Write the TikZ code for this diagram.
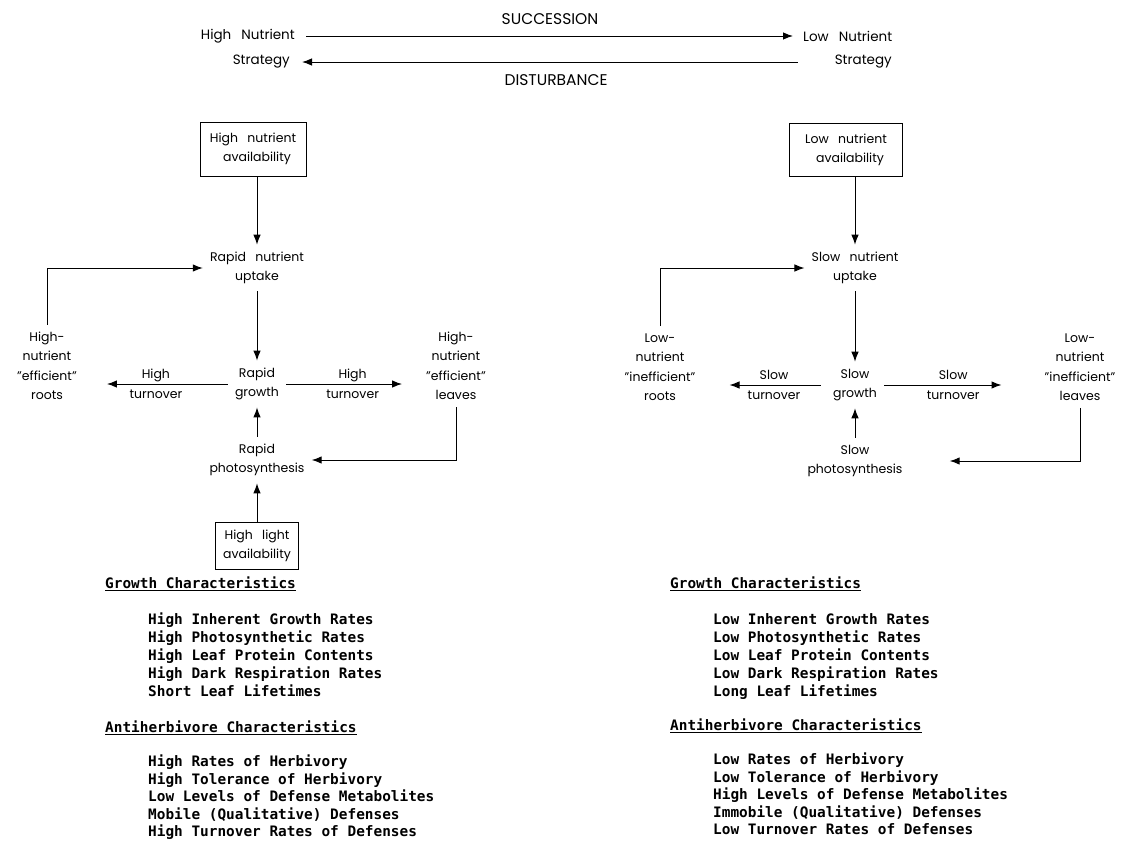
\documentclass[tikz,border=0pt]{standalone}
\usepackage{fontspec}
\setmainfont{Poppins}
\newfontfamily\listfamily{DejaVu Sans Mono}
\usepackage{tikz}
\usetikzlibrary{arrows.meta}
\def\diagfont{\fontsize{12.5}{19.5}\selectfont\spaceskip=0.75em\relax}
\def\stratfont{\fontsize{13.5}{19.5}\selectfont\spaceskip=0.75em\relax}
\def\capfont{\fontsize{15.5}{19.5}\selectfont}
\def\listfont{\listfamily\bfseries\fontsize{14.4}{18}\selectfont}
\def\qt{\symbol{34}}
\tikzstyle{arrow} = [line width=1pt,-{Latex[length=10pt,width=7.5pt]}]

\begin{document}
\begin{tikzpicture}[x=1pt,y=-1pt]
    \tikzstyle{word}=[font=\diagfont, align=center, inner sep=7pt]
    \tikzstyle{strat}=[font=\stratfont, inner sep=6pt]
    \tikzstyle{box}=[word, draw, line width=1pt, inner sep=3pt]
    \tikzstyle{turn}=[word, inner sep=0pt]
    \tikzstyle{item}=[font=\listfont, anchor=west, inner sep=0pt, text height=10.5pt, text depth=3pt]

    \useasboundingbox (0,0) rectangle (1135,844);

    % Strategies along the top
    \node[strat, anchor=east] (hiA) at (301,36) {High Nutrient};
    \node[strat, anchor=east, inner xsep=12pt] (hiB) at (302,62) {Strategy};
    \node[strat, anchor=west] (loA) at (797,36) {Low Nutrient};
    \node[strat, anchor=east] (loB) at (898,62) {Strategy};
    \node[strat, font=\capfont] (succ) at (550,19) {SUCCESSION};
    \node[strat, font=\capfont] (dist) at (556,80) {DISTURBANCE};
    \draw[arrow, shorten <=5pt, shorten >=4pt] (hiA.east) -- (hiA.east -| loA.west);
    \draw[arrow, shorten <=31pt] (loB.west) -- (loB.west -| hiB.east);

    % High nutrient side
    \node[box, minimum width=106pt, minimum height=54pt] (hnBox) at (253,149) {High nutrient\\\hspace*{8pt}availability};
    \node[word] (rUp) at (257,268) {Rapid nutrient\\uptake};
    \node[word] (rGrow) at (257,384) {Rapid\\growth};
    \node[word] (rPhoto) at (257,460) {Rapid\\photosynthesis};
    \node[box, minimum width=83pt, minimum height=47pt] (hlBox) at (257,546) {High light\\availability};
    \node[word] (hRoots) at (47,366) {High-\\nutrient\\\qt efficient\qt\\roots};
    \node[word] (hLeaves) at (456,366) {High-\\nutrient\\\qt efficient\qt\\leaves};

    \draw[arrow] (rUp.north |- hnBox.south) -- (rUp.north);
    \draw[arrow] (rUp) -- (rGrow);
    \draw[arrow, shorten >=23pt] (rGrow.west) -- node[turn] (hTurnL) {High\\turnover} (rGrow.west -| hRoots.east);
    \draw[arrow, shorten >=17pt] (rGrow.east) -- node[turn] (hTurnR) {High\\turnover} (rGrow.east -| hLeaves.west);
    \draw[arrow] (rPhoto) -- (rGrow);
    \draw[arrow] (hlBox) -- (rPhoto);
    \draw[arrow] (hRoots.north) |- (rUp.west);
    \draw[arrow] (hLeaves.south) |- (rPhoto.east);

    % Low nutrient side
    \node[box, minimum width=113pt, minimum height=53pt] (lnBox) at (846,150) {Low nutrient\\\hspace*{8pt}availability};
    \node[word] (sUp) at (855,268) {Slow nutrient\\uptake};
    \node[word] (sGrow) at (855,385) {Slow\\growth};
    \node[word] (sPhoto) at (855,461) {Slow\\photosynthesis};
    \node[word] (lRoots) at (660,367) {Low-\\nutrient\\\qt inefficient\qt\\roots};
    \node[word] (lLeaves) at (1080,367) {Low-\\nutrient\\\qt inefficient\qt\\leaves};

    \draw[arrow] (sUp.north |- lnBox.south) -- (sUp.north);
    \draw[arrow] (sUp) -- (sGrow);
    \draw[arrow, shorten <=5pt, shorten >=27pt] (sGrow.west) -- node[turn, pos=0.42] (sTurnL) {Slow\\turnover} (sGrow.west -| lRoots.east);
    \draw[arrow, shorten >=36pt] (sGrow.east) -- node[turn, pos=0.45] (sTurnR) {Slow\\turnover} (sGrow.east -| lLeaves.west);
    \draw[arrow] (sPhoto) -- (sGrow);
    \draw[arrow] (lRoots.north) |- (sUp.west);
    \draw[arrow, shorten >=40pt] (lLeaves.south) |- (sPhoto.east);

    % Characteristics, high side
    \node[item] (gh-L) at (105,585) {\underline{Growth Characteristics}};
    \foreach \txt [count=\i from 0] in {High Inherent Growth Rates, High Photosynthetic Rates,
        High Leaf Protein Contents, High Dark Respiration Rates, Short Leaf Lifetimes}
        \node[item] (gl-\i) at (148,621+18*\i) {\txt};
    \node[item] (ah-L) at (105,729) {\underline{Antiherbivore Characteristics}};
    \foreach \txt [count=\i from 0] in {High Rates of Herbivory, High Tolerance of Herbivory,
        Low Levels of Defense Metabolites, Mobile (Qualitative) Defenses, High Turnover Rates of Defenses}
        \node[item] (al-\i) at (148,763+17.5*\i) {\txt};

    % Characteristics, low side
    \node[item] (gh-R) at (670,585) {\underline{Growth Characteristics}};
    \foreach \txt [count=\i from 0] in {Low Inherent Growth Rates, Low Photosynthetic Rates,
        Low Leaf Protein Contents, Low Dark Respiration Rates, Long Leaf Lifetimes}
        \node[item] (gr-\i) at (713,621+18*\i) {\txt};
    \node[item] (ah-R) at (670,727) {\underline{Antiherbivore Characteristics}};
    \foreach \txt [count=\i from 0] in {Low Rates of Herbivory, Low Tolerance of Herbivory,
        High Levels of Defense Metabolites, Immobile (Qualitative) Defenses, Low Turnover Rates of Defenses}
        \node[item] (ar-\i) at (713,761+17.5*\i) {\txt};
\end{tikzpicture}
\end{document}
